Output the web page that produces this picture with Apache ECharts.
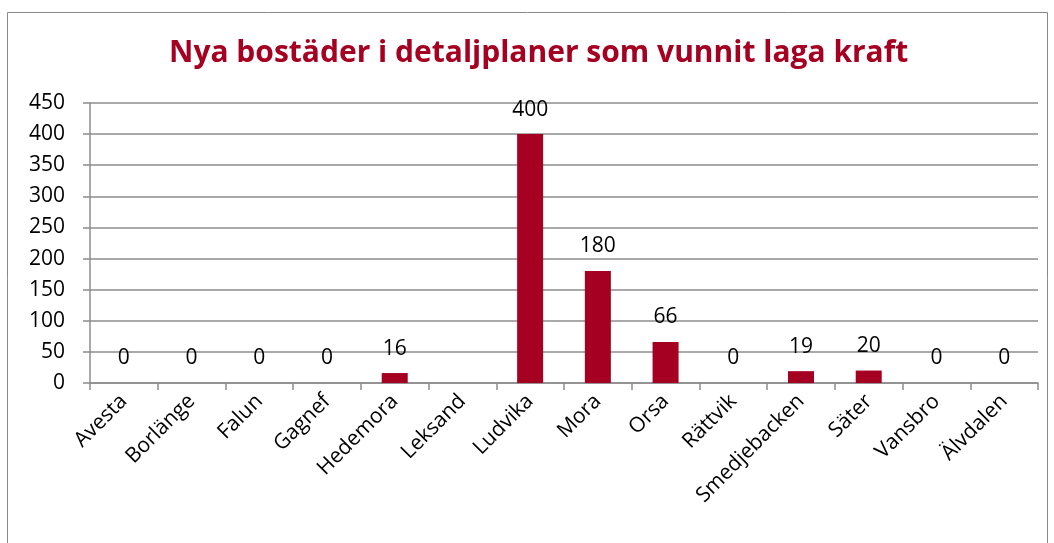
<!DOCTYPE html>
<html>
<head>
<meta charset="utf-8">
<script src="https://cdn.jsdelivr.net/npm/echarts@6/dist/echarts.min.js"></script>
<style>
  html, body { margin: 0; padding: 0; background: #fff; }
  #chart { width: 1054px; height: 543px; }
</style>
</head>
<body>
<div id="chart"></div>
<script>
const kommuner = ['Avesta', 'Borlänge', 'Falun', 'Gagnef', 'Hedemora', 'Leksand', 'Ludvika',
    'Mora', 'Orsa', 'Rättvik', 'Smedjebacken', 'Säter', 'Vansbro', 'Älvdalen'];
// Leksand saknar värde i originalet
const bostader = [0, 0, 0, 0, 16, '-', 400, 180, 66, 0, 19, 20, 0, 0];
const titel = 'Nya bostäder i detaljplaner som vunnit laga kraft';

document.addEventListener('DOMContentLoaded', function () {
    const myChart = echarts.init(document.getElementById('chart'));
    const rod = '#A50021';
    const gra = '#8c8c8c';
    const font = 'Open Sans';

    const option = {
        animation: false,
        title: {
            text: titel,
            left: 164,
            top: 33,
            textStyle: { color: rod, fontSize: 30, fontWeight: 'bold', fontFamily: 'Open Sans' }
        },
        graphic: [{
            type: 'rect',
            shape: { x: 7.5, y: 12.5, width: 1040, height: 545 },
            style: { fill: 'none', stroke: '#898989', lineWidth: 1 },
            silent: true
        }],
        grid: { left: 90, right: 16, top: 103, bottom: 160, containLabel: false },
        xAxis: {
            type: 'category',
            data: kommuner,
            axisLine: { lineStyle: { color: gra, width: 1.5 } },
            axisTick: { show: true, length: 7, lineStyle: { color: gra, width: 1.5 } },
            axisLabel: { rotate: 45, color: '#000', fontSize: 21, fontFamily: font, margin: 15, interval: 0 }
        },
        yAxis: {
            type: 'value',
            min: 0,
            max: 450,
            interval: 50,
            axisLine: { show: true, lineStyle: { color: gra, width: 1.5 } },
            axisTick: { show: true, length: 7, lineStyle: { color: gra, width: 1.5 } },
            splitLine: { lineStyle: { color: gra, width: 1.5 } },
            axisLabel: { color: '#000', fontSize: 21, fontFamily: font, margin: 25 }
        },
        series: [{
            name: 'Nya bostäder',
            type: 'bar',
            data: bostader,
            barWidth: 26,
            itemStyle: { color: rod },
            label: {
                show: true,
                position: 'top',
                distance: 14,
                color: '#000',
                fontSize: 21,
                fontFamily: font
            }
        }]
    };

    myChart.setOption(option);
});
</script>
</body>
</html>
